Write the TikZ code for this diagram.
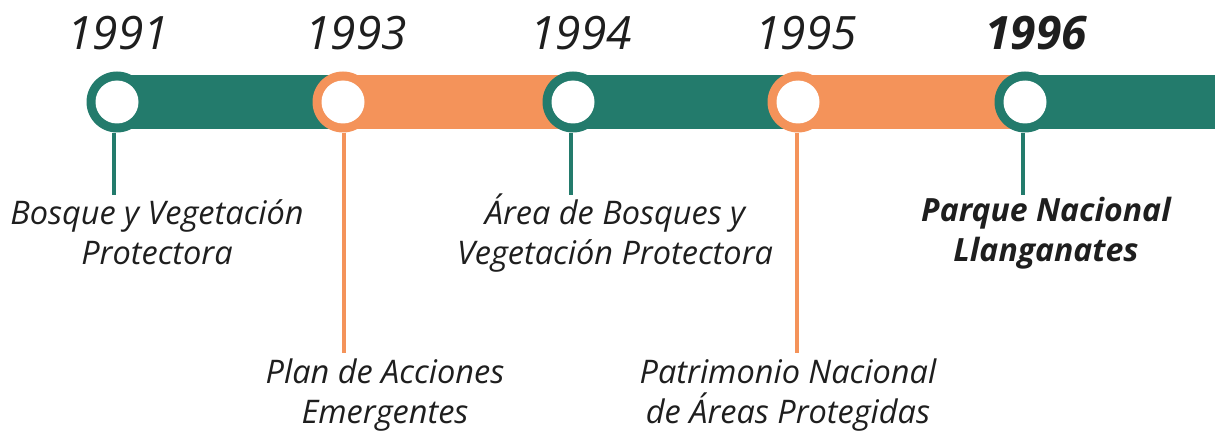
\documentclass[tikz,border=0pt]{standalone}
\usepackage{fontspec}
\setmainfont{Open Sans}
\definecolor{teal1}{HTML}{237B6C}
\definecolor{orng}{HTML}{F4935A}
\definecolor{ink}{HTML}{1E1E1E}
\begin{document}
\begin{tikzpicture}[x=1pt,y=-1pt,
  year/.style={font=\itshape\fontsize{46}{52}\selectfont, text=ink, anchor=base},
  lbl/.style={font=\itshape\fontsize{32.5}{40}\selectfont, text=ink, align=center, anchor=base},
  blbl/.style={font=\bfseries\itshape\fontsize{32}{40}\selectfont, text=ink, align=center, anchor=base},
  ring/.style={circle, minimum size=61pt, inner sep=0pt, fill=#1},
  hole/.style={circle, minimum size=43pt, inner sep=0pt, fill=white},
  stem/.style={line width=4pt, draw=#1}]
\useasboundingbox (0,0) rectangle (1215,433);
% bar segments
\fill[teal1] (117,75) rectangle (343,129);
\fill[orng] (343,75) rectangle (573,129);
\fill[teal1] (573,75) rectangle (798,129);
\fill[orng] (798,75) rectangle (1025,129);
\fill[teal1] (1025,75) rectangle (1215,129);
% circles
\foreach \n/\x/\c in {a/117/teal1, b/343/orng, c/573/teal1, d/798/orng, e/1025/teal1}{
  \node[ring=\c] (r\n) at (\x,102) {};
  \node[hole] (h\n) at (\x,102) {};
}
% stems
\coordinate (ea) at (114,195);
\coordinate (eb) at (344,353);
\coordinate (ec) at (571,195);
\coordinate (ed) at (797,353);
\coordinate (ee) at (1023,195);
\draw[stem=teal1] (ra.south -| ea) -- (ea);
\draw[stem=orng] (rb.south -| eb) -- (eb);
\draw[stem=teal1] (rc.south -| ec) -- (ec);
\draw[stem=orng] (rd.south -| ed) -- (ed);
\draw[stem=teal1] (re.south -| ee) -- (ee);
% years
\node[year] (ya) at (118,50) {1991};
\node[year] (yb) at (356,50) {1993};
\node[year] (yc) at (581,50) {1994};
\node[year] (yd) at (806,50) {1995};
\node[year, font=\bfseries\itshape\fontsize{46}{52}\selectfont] (ye) at (1036,50) {1996};
% labels
\node[lbl] (la) at (157,264) {Bosque y Vegetación\\Protectora};
\node[lbl] (lb) at (385,423) {Plan de Acciones\\Emergentes};
\node[lbl] (lc) at (615,264) {Área de Bosques y\\Vegetación Protectora};
\node[lbl] (ld) at (788,423) {Patrimonio Nacional\\de Áreas Protegidas};
\node[blbl] (le) at (1046,261) {Parque Nacional\\Llanganates};
\end{tikzpicture}
\end{document}
